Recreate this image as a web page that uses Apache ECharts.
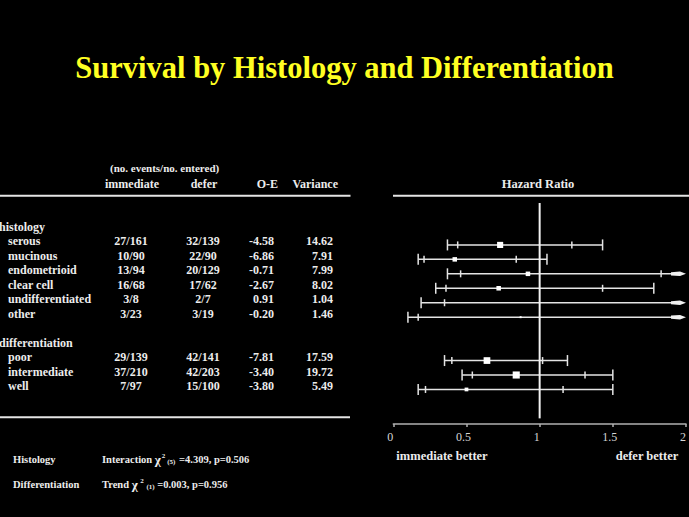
<!DOCTYPE html>
<html>
<head>
<meta charset="utf-8">
<script src="https://cdn.jsdelivr.net/npm/echarts@6/dist/echarts.min.js"></script>
<style>
html,body{margin:0;padding:0;background:#000;}
#c{width:689px;height:517px;}
</style>
</head>
<body>
<div id="c"></div>
<script>
// ---- data ----
const histologyTypes = ['serous','mucinous','endometrioid','clear cell','undifferentiated','other'];
const differentiationGrades = ['poor','intermediate','well'];
const immediateEvents = ['27/161','10/90','13/94','16/68','3/8','3/23','29/139','37/210','7/97'];
const deferEvents = ['32/139','22/90','20/129','17/62','2/7','3/19','42/141','42/203','15/100'];
const oMinusE = [-4.58,-6.86,-0.71,-2.67,0.91,-0.20,-7.81,-3.40,-3.80];
const variance = [14.62,7.91,7.99,8.02,1.04,1.46,17.59,19.72,5.49];
const hazardRatio = [0.73,0.42,0.92,0.72,2.40,0.87,0.64,0.84,0.50];
const ci95Low = [0.44,0.21,0.46,0.36,0.35,0.17,0.40,0.54,0.22];
const ci95High = [1.22,0.84,1.83,1.43,16.4,4.41,1.02,1.31,1.16];
const ci99Low = [0.37,0.17,0.37,0.29,0.19,0.10,0.35,0.47,0.17];
const ci99High = [1.43,1.05,2.28,1.78,30.0,7.35,1.19,1.50,1.50];
const xTicks = [0, 0.5, 1, 1.5, 2];

// ---- layout of rows ----
const groupRows = [{name:'histology', row:0}, {name:'differentiation', row:8}];
const itemRows = [];
histologyTypes.forEach((n,i)=>itemRows.push({name:n, row:1+i}));
differentiationGrades.forEach((n,i)=>itemRows.push({name:n, row:9+i}));

const FONT = '"Liberation Serif","Times New Roman",serif';
const TXT = '#ececec';
const LINE = '#e4e4e4';
const Y_MIN = -1.9, Y_MAX = 13.39;

const chart = echarts.init(document.getElementById('c'), null, {renderer:'svg'});

function t(text, x, y, opts){
  return Object.assign({
    type:'text', x:x, y:y,
    style:Object.assign({text:text, fill:TXT, font:'bold 12px '+FONT,
      textAlign:'left', textVerticalAlign:'middle', align:'left', verticalAlign:'middle'}, opts||{})
  });
}

function renderTable(params, api){
  const idx = params.dataIndex;
  const row = api.value(0);
  const y = api.coord([0,row])[1];
  const children = [];
  if (idx < groupRows.length) {
    children.push(t(groupRows[idx].name, api.coord([-1,row])[0], y));
  } else {
    const k = idx - groupRows.length;
    children.push(t(itemRows[k].name, api.coord([8,row])[0], y));
    children.push(t(immediateEvents[k], api.coord([131,row])[0], y, {textAlign:'center', align:'center'}));
    children.push(t(deferEvents[k], api.coord([203,row])[0], y, {textAlign:'center', align:'center'}));
    children.push(t(oMinusE[k].toFixed(2), api.coord([274,row])[0], y, {textAlign:'right', align:'right'}));
    children.push(t(variance[k].toFixed(2), api.coord([333,row])[0], y, {textAlign:'right', align:'right'}));
  }
  return {type:'group', children:children};
}

function renderForest(params, api){
  const row = api.value(0);
  const hr = api.value(1), lo95 = api.value(2), hi95 = api.value(3), lo99 = api.value(4), hi99 = api.value(5), v = api.value(6);
  const XMAX = 2;
  const y = api.coord([0,row])[1];
  const px = val => api.coord([Math.min(val, XMAX), row])[0];
  const st = {stroke:LINE, lineWidth:1.5};
  const ch = [];
  const arrow = hi99 > XMAX;
  const xEnd = px(hi99);
  ch.push({type:'line', shape:{x1:px(lo99), y1:y, x2: arrow ? xEnd-8 : xEnd, y2:y}, style:st});
  ch.push({type:'line', shape:{x1:px(lo99), y1:y-5.5, x2:px(lo99), y2:y+5.5}, style:st});
  if (!arrow) ch.push({type:'line', shape:{x1:xEnd, y1:y-5.5, x2:xEnd, y2:y+5.5}, style:st});
  ch.push({type:'line', shape:{x1:px(lo95), y1:y-3.5, x2:px(lo95), y2:y+3.5}, style:st});
  if (hi95 <= XMAX) ch.push({type:'line', shape:{x1:px(hi95), y1:y-3.5, x2:px(hi95), y2:y+3.5}, style:st});
  if (hr <= XMAX) {
    const s = Math.sqrt(v)*1.6;
    ch.push({type:'rect', shape:{x:px(hr)-s/2, y:y-s/2, width:s, height:s}, style:{fill:'#ffffff'}});
  }
  if (arrow) {
    ch.push({type:'polygon', shape:{points:[[xEnd-15,y-1.6],[xEnd-6,y-2.2],[xEnd,y],[xEnd-6,y+2.2],[xEnd-15,y+1.6]]}, style:{fill:'#f0f0f0'}});
  }
  return {type:'group', children:ch};
}

const tableData = groupRows.map(g=>[g.row]).concat(itemRows.map(r=>[r.row]));
const forestData = itemRows.map((r,k)=>[r.row, hazardRatio[k], ci95Low[k], ci95High[k], ci99Low[k], ci99High[k], variance[k]]);

const option = {
  backgroundColor:'#000',
  animation:false,
  title:{
    text:'Survival by Histology and Differentiation',
    left:'center', top:47,
    textStyle:{color:'#ffff22', fontFamily:FONT, fontWeight:'bold', fontSize:30.5}
  },
  grid:[
    {left:0, width:350, top:199.5, height:221, containLabel:false},
    {left:393.3, right:2.3, top:203, bottom:93, containLabel:false}
  ],
  xAxis:[
    {gridIndex:0, type:'value', min:0, max:350, show:false},
    {gridIndex:1, type:'value', min:0, max:2, interval:0.5, position:'bottom',
      axisLine:{show:true, onZero:false, lineStyle:{color:'#b0b0b0', width:1.5}},
      axisTick:{show:true, length:3, lineStyle:{color:'#b0b0b0', width:1.5}},
      axisLabel:{color:'#d6d6d6', fontFamily:FONT, fontSize:12, margin:7, padding:[0,6,0,0],
        formatter: v => xTicks.includes(v) ? String(v) : ''},
      splitLine:{show:false}}
  ],
  yAxis:[
    {gridIndex:0, type:'value', min:Y_MIN, max:Y_MAX, inverse:true, show:false},
    {gridIndex:1, type:'value', min:Y_MIN, max:Y_MAX, inverse:true, show:false}
  ],
  series:[
    {type:'custom', xAxisIndex:0, yAxisIndex:0, renderItem:renderTable, data:tableData, encode:{y:0}, clip:false},
    {type:'line', xAxisIndex:1, yAxisIndex:1, data:[[1,Y_MIN],[1,13.0]], symbol:'none',
      lineStyle:{color:'#f2f2f2', width:2}},
    {type:'custom', xAxisIndex:1, yAxisIndex:1, renderItem:renderForest, data:forestData, encode:{x:[1], y:0}, clip:false}
  ],
  graphic:[
    // table header
    {type:'text', left:110, top:162, style:{text:'(no. events/no. entered)', fill:TXT, font:'bold 11px '+FONT}},
    {type:'text', x:132, y:184, style:{text:'immediate', fill:TXT, font:'bold 12px '+FONT, textAlign:'center', textVerticalAlign:'middle', align:'center', verticalAlign:'middle'}},
    {type:'text', x:204, y:184, style:{text:'defer', fill:TXT, font:'bold 12px '+FONT, textAlign:'center', textVerticalAlign:'middle', align:'center', verticalAlign:'middle'}},
    {type:'text', x:278, y:184, style:{text:'O-E', fill:TXT, font:'bold 12px '+FONT, textAlign:'right', textVerticalAlign:'middle', align:'right', verticalAlign:'middle'}},
    {type:'text', x:338, y:184, style:{text:'Variance', fill:TXT, font:'bold 12px '+FONT, textAlign:'right', textVerticalAlign:'middle', align:'right', verticalAlign:'middle'}},
    {type:'line', shape:{x1:0, y1:195.7, x2:350.5, y2:195.7}, style:{stroke:LINE, lineWidth:2}},
    {type:'line', shape:{x1:0, y1:417.3, x2:350, y2:417.3}, style:{stroke:LINE, lineWidth:2}},
    // forest header
    {type:'text', x:538, y:184, style:{text:'Hazard Ratio', fill:TXT, font:'bold 12.5px '+FONT, textAlign:'center', textVerticalAlign:'middle', align:'center', verticalAlign:'middle'}},
    {type:'line', shape:{x1:393, y1:195.7, x2:689, y2:195.7}, style:{stroke:LINE, lineWidth:2}},
    {type:'text', x:442, y:456, style:{text:'immediate better', fill:TXT, font:'bold 12.5px '+FONT, textAlign:'center', textVerticalAlign:'middle', align:'center', verticalAlign:'middle'}},
    {type:'text', x:647, y:456, style:{text:'defer better', fill:TXT, font:'bold 12.5px '+FONT, textAlign:'center', textVerticalAlign:'middle', align:'center', verticalAlign:'middle'}},
    // bottom notes
    {type:'text', x:13, y:459, style:{text:'Histology', fill:TXT, font:'bold 10.5px '+FONT, textVerticalAlign:'middle', verticalAlign:'middle'}},
    {type:'text', x:102, y:459, style:{
      text:'Interaction {chi|χ}{sup|2}{sub|(5)} =4.309, p=0.506', fill:TXT, font:'bold 10.5px '+FONT,
      textVerticalAlign:'middle', verticalAlign:'middle',
      rich:{chi:{font:'bold 13px '+FONT, fill:TXT}, sup:{font:'bold 7px '+FONT, fill:TXT, verticalAlign:'top', padding:[0,1,6,1]}, sub:{font:'bold 7px '+FONT, fill:TXT, verticalAlign:'bottom', padding:[5,1,0,1]}}
    }},
    {type:'text', x:13, y:484, style:{text:'Differentiation', fill:TXT, font:'bold 10.5px '+FONT, textVerticalAlign:'middle', verticalAlign:'middle'}},
    {type:'text', x:102, y:484, style:{
      text:'Trend {chi|χ} {sup|2} {sub|(1)} =0.003, p=0.956', fill:TXT, font:'bold 10.5px '+FONT,
      textVerticalAlign:'middle', verticalAlign:'middle',
      rich:{chi:{font:'bold 13px '+FONT, fill:TXT}, sup:{font:'bold 7px '+FONT, fill:TXT, verticalAlign:'top', padding:[0,0,6,0]}, sub:{font:'bold 7px '+FONT, fill:TXT, verticalAlign:'bottom', padding:[5,0,0,0]}}
    }}
  ]
};
chart.setOption(option);
</script>
</body>
</html>
